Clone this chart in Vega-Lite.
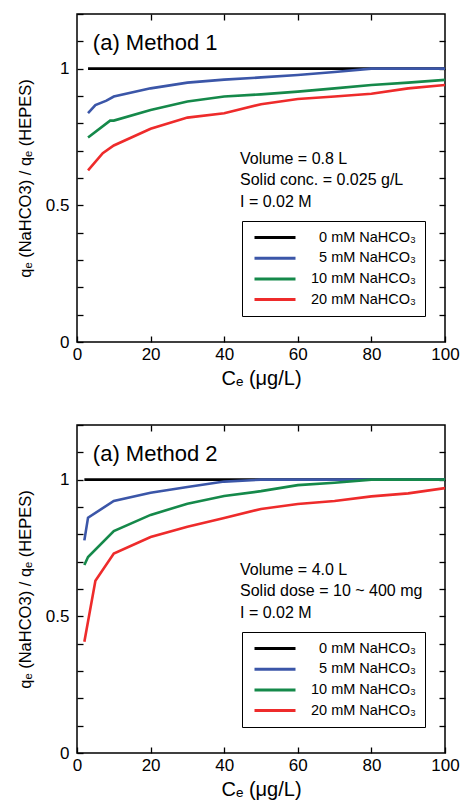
{
  "$schema": "https://vega.github.io/schema/vega-lite/v6.json",
  "background": "white",
  "padding": {"left": 16, "top": 4, "right": 15, "bottom": 0},
  "spacing": 83,
  "bounds": "flush",
  "config": {
    "font": "Liberation Sans",
    "view": {"stroke": "black", "strokeWidth": 1.5},
    "axis": {
      "grid": false,
      "domain": false,
      "ticks": true,
      "tickSize": -6,
      "tickColor": "black",
      "tickWidth": 1.3,
      "labelFontSize": 17,
      "labelColor": "black",
      "labelFlush": false,
      "labelOverlap": false,
      "titleColor": "black",
      "titleFontWeight": "normal"
    },
    "legend": {
      "orient": "none",
      "legendX": 165,
      "legendY": 207,
      "title": null,
      "strokeColor": "black",
      "padding": 9,
      "symbolType": "M-0.667,0H6.167",
      "symbolSize": 144,
      "symbolStrokeWidth": 3,
      "labelFontSize": 14.5,
      "labelColor": "black",
      "labelAlign": "right",
      "labelOffset": 150,
      "rowPadding": 5.7
    }
  },
  "datasets": {
    "m1": [
      {"ce": 3, "ratio": 1, "series": "0 mM NaHCO₃"},
      {"ce": 10, "ratio": 1, "series": "0 mM NaHCO₃"},
      {"ce": 20, "ratio": 1, "series": "0 mM NaHCO₃"},
      {"ce": 40, "ratio": 1, "series": "0 mM NaHCO₃"},
      {"ce": 60, "ratio": 1, "series": "0 mM NaHCO₃"},
      {"ce": 80, "ratio": 1, "series": "0 mM NaHCO₃"},
      {"ce": 100, "ratio": 1, "series": "0 mM NaHCO₃"},
      {"ce": 3, "ratio": 0.837, "series": "5 mM NaHCO₃"},
      {"ce": 5, "ratio": 0.867, "series": "5 mM NaHCO₃"},
      {"ce": 8, "ratio": 0.883, "series": "5 mM NaHCO₃"},
      {"ce": 10, "ratio": 0.898, "series": "5 mM NaHCO₃"},
      {"ce": 20, "ratio": 0.928, "series": "5 mM NaHCO₃"},
      {"ce": 30, "ratio": 0.949, "series": "5 mM NaHCO₃"},
      {"ce": 40, "ratio": 0.96, "series": "5 mM NaHCO₃"},
      {"ce": 50, "ratio": 0.968, "series": "5 mM NaHCO₃"},
      {"ce": 60, "ratio": 0.977, "series": "5 mM NaHCO₃"},
      {"ce": 70, "ratio": 0.988, "series": "5 mM NaHCO₃"},
      {"ce": 80, "ratio": 1.0, "series": "5 mM NaHCO₃"},
      {"ce": 90, "ratio": 1.0, "series": "5 mM NaHCO₃"},
      {"ce": 100, "ratio": 1.0, "series": "5 mM NaHCO₃"},
      {"ce": 3, "ratio": 0.748, "series": "10 mM NaHCO₃"},
      {"ce": 9, "ratio": 0.81, "series": "10 mM NaHCO₃"},
      {"ce": 10, "ratio": 0.81, "series": "10 mM NaHCO₃"},
      {"ce": 20, "ratio": 0.849, "series": "10 mM NaHCO₃"},
      {"ce": 30, "ratio": 0.88, "series": "10 mM NaHCO₃"},
      {"ce": 40, "ratio": 0.898, "series": "10 mM NaHCO₃"},
      {"ce": 50, "ratio": 0.906, "series": "10 mM NaHCO₃"},
      {"ce": 60, "ratio": 0.916, "series": "10 mM NaHCO₃"},
      {"ce": 70, "ratio": 0.928, "series": "10 mM NaHCO₃"},
      {"ce": 80, "ratio": 0.94, "series": "10 mM NaHCO₃"},
      {"ce": 90, "ratio": 0.949, "series": "10 mM NaHCO₃"},
      {"ce": 100, "ratio": 0.959, "series": "10 mM NaHCO₃"},
      {"ce": 3, "ratio": 0.628, "series": "20 mM NaHCO₃"},
      {"ce": 7, "ratio": 0.691, "series": "20 mM NaHCO₃"},
      {"ce": 10, "ratio": 0.719, "series": "20 mM NaHCO₃"},
      {"ce": 20, "ratio": 0.78, "series": "20 mM NaHCO₃"},
      {"ce": 30, "ratio": 0.821, "series": "20 mM NaHCO₃"},
      {"ce": 40, "ratio": 0.837, "series": "20 mM NaHCO₃"},
      {"ce": 50, "ratio": 0.87, "series": "20 mM NaHCO₃"},
      {"ce": 60, "ratio": 0.889, "series": "20 mM NaHCO₃"},
      {"ce": 70, "ratio": 0.898, "series": "20 mM NaHCO₃"},
      {"ce": 80, "ratio": 0.908, "series": "20 mM NaHCO₃"},
      {"ce": 90, "ratio": 0.928, "series": "20 mM NaHCO₃"},
      {"ce": 100, "ratio": 0.94, "series": "20 mM NaHCO₃"}
    ],
    "m2": [
      {"ce": 2, "ratio": 1, "series": "0 mM NaHCO₃"},
      {"ce": 10, "ratio": 1, "series": "0 mM NaHCO₃"},
      {"ce": 20, "ratio": 1, "series": "0 mM NaHCO₃"},
      {"ce": 40, "ratio": 1, "series": "0 mM NaHCO₃"},
      {"ce": 60, "ratio": 1, "series": "0 mM NaHCO₃"},
      {"ce": 80, "ratio": 1, "series": "0 mM NaHCO₃"},
      {"ce": 100, "ratio": 1, "series": "0 mM NaHCO₃"},
      {"ce": 2, "ratio": 0.778, "series": "5 mM NaHCO₃"},
      {"ce": 3, "ratio": 0.861, "series": "5 mM NaHCO₃"},
      {"ce": 10, "ratio": 0.922, "series": "5 mM NaHCO₃"},
      {"ce": 20, "ratio": 0.952, "series": "5 mM NaHCO₃"},
      {"ce": 30, "ratio": 0.973, "series": "5 mM NaHCO₃"},
      {"ce": 40, "ratio": 0.993, "series": "5 mM NaHCO₃"},
      {"ce": 50, "ratio": 1.0, "series": "5 mM NaHCO₃"},
      {"ce": 60, "ratio": 1.0, "series": "5 mM NaHCO₃"},
      {"ce": 70, "ratio": 1.0, "series": "5 mM NaHCO₃"},
      {"ce": 80, "ratio": 1.0, "series": "5 mM NaHCO₃"},
      {"ce": 90, "ratio": 1.0, "series": "5 mM NaHCO₃"},
      {"ce": 100, "ratio": 1.0, "series": "5 mM NaHCO₃"},
      {"ce": 2, "ratio": 0.688, "series": "10 mM NaHCO₃"},
      {"ce": 3, "ratio": 0.717, "series": "10 mM NaHCO₃"},
      {"ce": 10, "ratio": 0.812, "series": "10 mM NaHCO₃"},
      {"ce": 20, "ratio": 0.871, "series": "10 mM NaHCO₃"},
      {"ce": 30, "ratio": 0.912, "series": "10 mM NaHCO₃"},
      {"ce": 40, "ratio": 0.94, "series": "10 mM NaHCO₃"},
      {"ce": 50, "ratio": 0.958, "series": "10 mM NaHCO₃"},
      {"ce": 60, "ratio": 0.98, "series": "10 mM NaHCO₃"},
      {"ce": 70, "ratio": 0.989, "series": "10 mM NaHCO₃"},
      {"ce": 80, "ratio": 1.0, "series": "10 mM NaHCO₃"},
      {"ce": 90, "ratio": 1.0, "series": "10 mM NaHCO₃"},
      {"ce": 100, "ratio": 1.0, "series": "10 mM NaHCO₃"},
      {"ce": 2, "ratio": 0.407, "series": "20 mM NaHCO₃"},
      {"ce": 5, "ratio": 0.63, "series": "20 mM NaHCO₃"},
      {"ce": 10, "ratio": 0.73, "series": "20 mM NaHCO₃"},
      {"ce": 20, "ratio": 0.79, "series": "20 mM NaHCO₃"},
      {"ce": 30, "ratio": 0.828, "series": "20 mM NaHCO₃"},
      {"ce": 40, "ratio": 0.86, "series": "20 mM NaHCO₃"},
      {"ce": 50, "ratio": 0.893, "series": "20 mM NaHCO₃"},
      {"ce": 60, "ratio": 0.911, "series": "20 mM NaHCO₃"},
      {"ce": 70, "ratio": 0.922, "series": "20 mM NaHCO₃"},
      {"ce": 80, "ratio": 0.939, "series": "20 mM NaHCO₃"},
      {"ce": 90, "ratio": 0.95, "series": "20 mM NaHCO₃"},
      {"ce": 100, "ratio": 0.969, "series": "20 mM NaHCO₃"}
    ]
  },
  "resolve": {"scale": {"color": "independent"}, "legend": {"color": "independent"}},
  "vconcat": [
    {
      "width": 368,
      "height": 328,
      "layer": [
        {
          "data": {"name": "m1"},
          "mark": {"type": "line", "strokeWidth": 2.6, "clip": true},
          "encoding": {
            "x": {"field": "ce", "type": "quantitative", "scale": {"domain": [0, 100], "nice": false},
              "axis": {"orient": "bottom", "values": [0, 20, 40, 60, 80, 100], "labelPadding": 10, "title": "Cₑ (μg/L)", "titleFontSize": 20, "titlePadding": 6}},
            "y": {"field": "ratio", "type": "quantitative", "scale": {"domain": [0, 1.2], "nice": false, "zero": false},
              "axis": {"orient": "left", "values": [0, 0.1, 0.2, 0.3, 0.4, 0.5, 0.6, 0.7, 0.8, 0.9, 1, 1.1, 1.2], "labelPadding": 14,
                "labelExpr": "datum.value == 1 ? '1' : datum.value == 0.5 ? '0.5' : datum.value == 0 ? '0' : ''",
                "title": "qₑ (NaHCO3) / qₑ (HEPES)", "titleFontSize": 16.5, "titlePadding": 12}},
            "color": {"field": "series", "type": "nominal",
              "scale": {"domain": ["0 mM NaHCO₃", "5 mM NaHCO₃", "10 mM NaHCO₃", "20 mM NaHCO₃"], "range": ["#000000", "#3b56a8", "#15894a", "#ee2b2b"]}}
          }
        },
        {
          "data": {"values": [{"label": "(a) Method 1"}]},
          "mark": {"type": "text", "align": "left", "baseline": "alphabetic", "fontSize": 22, "color": "black"},
          "encoding": {
            "text": {"field": "label"},
            "x": {"datum": 4.3, "type": "quantitative", "scale": {"domain": [0, 100], "nice": false},
              "axis": {"orient": "top", "values": [20, 40, 60, 80], "labels": false, "title": null}},
            "y": {"datum": 1.07, "type": "quantitative", "scale": {"domain": [0, 1.2], "nice": false, "zero": false},
              "axis": {"orient": "right", "values": [0.1, 0.2, 0.3, 0.4, 0.5, 0.6, 0.7, 0.8, 0.9, 1, 1.1], "labels": false, "title": null}}
          }
        },
        {
          "data": {"values": [{"label": "Volume = 0.8 L\nSolid conc. = 0.025 g/L\nI = 0.02 M"}]},
          "mark": {"type": "text", "align": "left", "baseline": "alphabetic", "fontSize": 16, "lineHeight": 21.5, "lineBreak": "\n", "color": "black"},
          "encoding": {
            "text": {"field": "label"},
            "x": {"datum": 44.3, "type": "quantitative", "axis": null},
            "y": {"datum": 0.652, "type": "quantitative", "axis": null}
          }
        }
      ],
      "resolve": {"axis": {"x": "independent", "y": "independent"}}
    },
    {
      "width": 368,
      "height": 328,
      "layer": [
        {
          "data": {"name": "m2"},
          "mark": {"type": "line", "strokeWidth": 2.6, "clip": true},
          "encoding": {
            "x": {"field": "ce", "type": "quantitative", "scale": {"domain": [0, 100], "nice": false},
              "axis": {"orient": "bottom", "values": [0, 20, 40, 60, 80, 100], "labelPadding": 10, "title": "Cₑ (μg/L)", "titleFontSize": 20, "titlePadding": 6}},
            "y": {"field": "ratio", "type": "quantitative", "scale": {"domain": [0, 1.2], "nice": false, "zero": false},
              "axis": {"orient": "left", "values": [0, 0.1, 0.2, 0.3, 0.4, 0.5, 0.6, 0.7, 0.8, 0.9, 1, 1.1, 1.2], "labelPadding": 14,
                "labelExpr": "datum.value == 1 ? '1' : datum.value == 0.5 ? '0.5' : datum.value == 0 ? '0' : ''",
                "title": "qₑ (NaHCO3) / qₑ (HEPES)", "titleFontSize": 16.5, "titlePadding": 12}},
            "color": {"field": "series", "type": "nominal",
              "scale": {"domain": ["0 mM NaHCO₃", "5 mM NaHCO₃", "10 mM NaHCO₃", "20 mM NaHCO₃"], "range": ["#000000", "#3b56a8", "#15894a", "#ee2b2b"]}}
          }
        },
        {
          "data": {"values": [{"label": "(a) Method 2"}]},
          "mark": {"type": "text", "align": "left", "baseline": "alphabetic", "fontSize": 22, "color": "black"},
          "encoding": {
            "text": {"field": "label"},
            "x": {"datum": 4.3, "type": "quantitative", "scale": {"domain": [0, 100], "nice": false},
              "axis": {"orient": "top", "values": [20, 40, 60, 80], "labels": false, "title": null}},
            "y": {"datum": 1.07, "type": "quantitative", "scale": {"domain": [0, 1.2], "nice": false, "zero": false},
              "axis": {"orient": "right", "values": [0.1, 0.2, 0.3, 0.4, 0.5, 0.6, 0.7, 0.8, 0.9, 1, 1.1], "labels": false, "title": null}}
          }
        },
        {
          "data": {"values": [{"label": "Volume = 4.0 L\nSolid dose = 10 ~ 400 mg\nI = 0.02 M"}]},
          "mark": {"type": "text", "align": "left", "baseline": "alphabetic", "fontSize": 16, "lineHeight": 21.5, "lineBreak": "\n", "color": "black"},
          "encoding": {
            "text": {"field": "label"},
            "x": {"datum": 44.3, "type": "quantitative", "axis": null},
            "y": {"datum": 0.652, "type": "quantitative", "axis": null}
          }
        }
      ],
      "resolve": {"axis": {"x": "independent", "y": "independent"}}
    }
  ]
}
